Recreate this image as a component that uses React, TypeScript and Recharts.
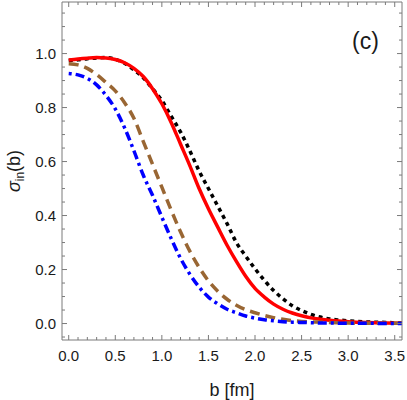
import React from 'react';
import { LineChart, Line, XAxis, YAxis } from 'recharts';

// impact parameter grid (fm)
const bValues = [
  0, 0.1, 0.2, 0.3, 0.4, 0.5, 0.6, 0.7, 0.8, 0.9, 1.0, 1.1, 1.2, 1.3, 1.4, 1.5, 1.6, 1.7,
  1.8, 1.9, 2.0, 2.1, 2.2, 2.3, 2.4, 2.5, 2.6, 2.7, 2.8, 2.9, 3.0, 3.2, 3.4, 3.6,
];

// sigma_in(b)
const blackDotted = [
  0.974, 0.977, 0.981, 0.984, 0.985, 0.979, 0.964, 0.94, 0.91, 0.87, 0.826, 0.768, 0.71, 0.64,
  0.565, 0.5, 0.435, 0.37, 0.3, 0.25, 0.203, 0.16, 0.122, 0.092, 0.066, 0.048, 0.034, 0.024,
  0.017, 0.013, 0.01, 0.006, 0.004, 0.002,
];
const redSolid = [
  0.976, 0.98, 0.983, 0.985, 0.984, 0.978, 0.966, 0.945, 0.915, 0.87, 0.814, 0.745, 0.665,
  0.585, 0.5, 0.425, 0.357, 0.29, 0.23, 0.175, 0.13, 0.098, 0.072, 0.053, 0.039, 0.029, 0.021,
  0.016, 0.012, 0.009, 0.007, 0.004, 0.002, 0.001,
];
const brownDashed = [
  0.962, 0.958, 0.945, 0.922, 0.893, 0.862, 0.818, 0.76, 0.675, 0.59, 0.505, 0.42, 0.34, 0.268,
  0.208, 0.158, 0.12, 0.09, 0.068, 0.051, 0.04, 0.03, 0.022, 0.016, 0.011, 0.008, 0.006, 0.005,
  0.004, 0.003, 0.002, 0.001, 0.001, 0.001,
];
const blueDotDashed = [
  0.926, 0.921, 0.908, 0.884, 0.845, 0.795, 0.725, 0.64, 0.55, 0.475, 0.394, 0.315, 0.242,
  0.183, 0.135, 0.098, 0.073, 0.053, 0.04, 0.028, 0.02, 0.014, 0.01, 0.007, 0.005, 0.004, 0.003,
  0.002, 0.002, 0.001, 0.001, 0.001, 0, 0,
];

const xTicks = [
  0, 0.1, 0.2, 0.3, 0.4, 0.5, 0.6, 0.7, 0.8, 0.9, 1.0, 1.1, 1.2, 1.3, 1.4, 1.5, 1.6, 1.7, 1.8,
  1.9, 2.0, 2.1, 2.2, 2.3, 2.4, 2.5, 2.6, 2.7, 2.8, 2.9, 3.0, 3.1, 3.2, 3.3, 3.4, 3.5,
];
const xLabels = ['0.0', '0.5', '1.0', '1.5', '2.0', '2.5', '3.0', '3.5'];
const yTicks = [
  -0.05, 0, 0.05, 0.1, 0.15, 0.2, 0.25, 0.3, 0.35, 0.4, 0.45, 0.5, 0.55, 0.6, 0.65, 0.7, 0.75,
  0.8, 0.85, 0.9, 0.95, 1.0, 1.05, 1.1, 1.15,
];
const yLabels = ['0.0', '0.2', '0.4', '0.6', '0.8', '1.0'];

const data = bValues.map((b, i) => ({
  b,
  black: blackDotted[i],
  red: redSolid[i],
  brown: brownDashed[i],
  blue: blueDotDashed[i],
}));

const FRAME = '#7a7a7a';
const FONT = '"Liberation Sans", Arial, sans-serif';
const MAJOR = 5;
const MINOR = 3;

const xDomain = [-0.072, 3.578];
const yDomain = [-0.061, 1.191];

// tick mark drawn inward, label only on major ticks
const makeTick = (side: 'bottom' | 'top' | 'left' | 'right', labels: string[] | null) =>
  (props: any) => {
    const { x, y, payload } = props;
    const vertical = side === 'left' || side === 'right';
    const txt = (Math.round(payload.value * 100) / 100).toFixed(1);
    const onTenth = Math.abs(payload.value * 10 - Math.round(payload.value * 10)) < 1e-6;
    const major = (vertical ? yLabels : xLabels).includes(txt) && onTenth
      && (vertical ? Math.abs(payload.value * 5 - Math.round(payload.value * 5)) < 1e-6
        : Math.abs(payload.value * 2 - Math.round(payload.value * 2)) < 1e-6);
    const len = major ? MAJOR : MINOR;
    let end = { x, y };
    if (side === 'bottom') end = { x, y: y - len };
    else if (side === 'top') end = { x, y: y + len };
    else if (side === 'left') end = { x: x + len, y };
    else end = { x: x - len, y };
    return (
      <g>
        <line x1={x} y1={y} x2={end.x} y2={end.y} stroke={FRAME} strokeWidth={1} />
        {labels && major && side === 'bottom' && (
          <text x={x} y={y + 21} textAnchor="middle" fontSize={15} fill="#1a1a1a" fontFamily={FONT}>
            {txt}
          </text>
        )}
        {labels && major && side === 'left' && (
          <text x={x - 6} y={y + 5.5} textAnchor="end" fontSize={15} fill="#1a1a1a" fontFamily={FONT}>
            {txt}
          </text>
        )}
      </g>
    );
  };

const YTitle = (props: any) => {
  const vb = props.viewBox || { x: 0, y: 1, width: 62, height: 339 };
  const cx = vb.x + 20;
  const cy = vb.y + vb.height / 2;
  return (
    <text
      x={cx}
      y={cy}
      transform={`rotate(-90 ${cx} ${cy})`}
      textAnchor="middle"
      fontSize={18}
      fill="#1a1a1a"
      fontFamily={FONT}
    >
      <tspan fontStyle="italic">σ</tspan>
      <tspan fontSize={12} dy={4}>in</tspan>
      <tspan dy={-4}>(b)</tspan>
    </text>
  );
};

const App: React.FC = () => {
  return (
    <div style={{ position: 'absolute', left: 0, top: 0, width: 407, height: 400, background: '#fff' }}>
      <LineChart width={407} height={400} data={data} margin={{ top: 1, right: 4, bottom: 0, left: 0 }}>
        <XAxis
          xAxisId="bottom"
          dataKey="b"
          type="number"
          domain={xDomain}
          allowDataOverflow
          ticks={xTicks}
          interval={0}
          height={60}
          tickSize={0}
          tickMargin={0}
          tickLine={false}
          axisLine={{ stroke: FRAME }}
          tick={makeTick('bottom', xLabels)}
          label={{ value: 'b [fm]', position: 'insideBottom', offset: 4, fontSize: 18, fill: '#1a1a1a', fontFamily: FONT }}
        />
        <XAxis
          xAxisId="top"
          orientation="top"
          dataKey="b"
          type="number"
          domain={xDomain}
          allowDataOverflow
          ticks={xTicks}
          interval={0}
          height={1}
          tickSize={0}
          tickMargin={0}
          tickLine={false}
          axisLine={{ stroke: FRAME }}
          tick={makeTick('top', null)}
        />
        <YAxis
          yAxisId="left"
          type="number"
          domain={yDomain}
          allowDataOverflow
          ticks={yTicks}
          interval={0}
          width={62}
          tickSize={0}
          tickMargin={0}
          tickLine={false}
          axisLine={{ stroke: FRAME }}
          tick={makeTick('left', yLabels)}
          label={<YTitle />}
        />
        <YAxis
          yAxisId="right"
          orientation="right"
          type="number"
          domain={yDomain}
          allowDataOverflow
          ticks={yTicks}
          interval={0}
          width={1}
          tickSize={0}
          tickMargin={0}
          tickLine={false}
          axisLine={{ stroke: FRAME }}
          tick={makeTick('right', null)}
        />
        {/* invisible series so the top/right frame axes get drawn */}
        <Line
          xAxisId="top"
          yAxisId="right"
          dataKey="black"
          stroke="none"
          strokeOpacity={0}
          dot={false}
          activeDot={false}
          legendType="none"
          isAnimationActive={false}
        />
        <Line
          xAxisId="bottom"
          yAxisId="left"
          dataKey="black"
          type="monotone"
          stroke="#000000"
          strokeWidth={3.5}
          strokeDasharray="4 4"
          dot={false}
          isAnimationActive={false}
        />
        <Line
          xAxisId="bottom"
          yAxisId="left"
          dataKey="red"
          type="monotone"
          stroke="#ff0000"
          strokeWidth={3.5}
          dot={false}
          isAnimationActive={false}
        />
        <Line
          xAxisId="bottom"
          yAxisId="left"
          dataKey="brown"
          type="monotone"
          stroke="#996633"
          strokeWidth={3.5}
          strokeDasharray="10 6"
          dot={false}
          isAnimationActive={false}
        />
        <Line
          xAxisId="bottom"
          yAxisId="left"
          dataKey="blue"
          type="monotone"
          stroke="#0000ff"
          strokeWidth={3.5}
          strokeDasharray="3 4 9 4"
          dot={false}
          isAnimationActive={false}
        />
      </LineChart>
      <div
        style={{
          position: 'absolute',
          left: 352,
          top: 26,
          fontSize: 23,
          fontFamily: FONT,
          color: '#1a1a1a',
          lineHeight: '30px',
        }}
      >
        (c)
      </div>
    </div>
  );
};

export default App;
